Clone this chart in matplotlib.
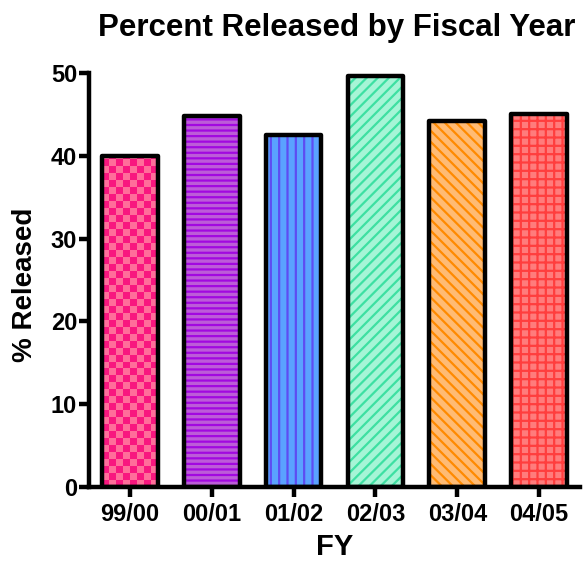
import matplotlib
matplotlib.use("Agg")
import matplotlib.pyplot as plt
import numpy as np
from matplotlib.colors import ListedColormap

plt.rcParams['font.family'] = ['Liberation Sans', 'DejaVu Sans']
plt.rcParams['hatch.linewidth'] = 1.6

categories = ["99/00", "00/01", "01/02", "02/03", "03/04", "04/05"]
values = [40.0, 44.8, 42.5, 49.6, 44.2, 45.0]
yticks = [0, 10, 20, 30, 40, 50]

face_colors = ["#FF6E9A", "#BC5CD8", "#5AA2FF", "#A6F5D6", "#FFBB74", "#FF7C7C"]
hatch_colors = ["#F8177F", "#A208E0", "#5E4CF2", "#3EE0A2", "#FF8A00", "#FF3E3E"]
hatches = [None, "---", "||", "///", "\\\\\\", "++"]

fig = plt.figure(figsize=(5.88, 5.68), dpi=100)
ax = fig.add_axes([0.1514, 0.1426, 0.835, 0.7289])

x = np.arange(len(categories))
width = 0.68

fills = ax.bar(x, values, width=width, color=face_colors, linewidth=0, zorder=2)
for b, hc, h in zip(fills, hatch_colors, hatches):
    if h:
        b.set_hatch(h)
        b.set_edgecolor(hc)
        b.set_linewidth(0)

ax.set_xlim(-0.5, 5.5)
ax.set_ylim(0, 50)

# checkerboard for first bar
b0 = fills[0]
x0, w0, h0 = b0.get_x(), b0.get_width(), b0.get_height()
ncols = 8
cell = w0 / ncols
fig.canvas.draw()
px_per_x = ax.transData.transform((1, 0))[0] - ax.transData.transform((0, 0))[0]
px_per_y = ax.transData.transform((0, 1))[1] - ax.transData.transform((0, 0))[1]
cell_y = cell * px_per_x / px_per_y
nrows = int(np.ceil(h0 / cell_y))
checker = (np.add.outer(np.arange(nrows), np.arange(ncols)) % 2)
cmap = ListedColormap([hatch_colors[0], face_colors[0]])
im = ax.imshow(checker, cmap=cmap, extent=(x0, x0 + w0, 0, nrows * cell_y),
               origin="lower", interpolation="nearest", aspect="auto", zorder=2.5)
im.set_clip_path(b0)
ax.set_xlim(-0.5, 5.5)
ax.set_ylim(0, 50)

outl = ax.bar(x, values, width=width, fill=False, edgecolor="black",
              linewidth=3.2, zorder=3)
for b in outl:
    b.set_joinstyle("round")

ax.set_yticks(yticks)
ax.set_xticks(x)
ax.set_xticklabels(categories)

for s in ["top", "right"]:
    ax.spines[s].set_visible(False)
for s in ["left", "bottom"]:
    ax.spines[s].set_linewidth(3.2)
    ax.spines[s].set_capstyle("projecting")

ax.tick_params(axis="both", width=3.2, length=7.5, labelsize=17, direction="out")
ax.tick_params(axis="y", pad=1)
ax.tick_params(axis="x", pad=4)
for lab in ax.get_xticklabels() + ax.get_yticklabels():
    lab.set_fontweight("bold")

ax.set_ylabel("% Released", fontsize=20, fontweight="bold")
ax.yaxis.set_label_coords(-0.103, 0.488)
ax.set_xlabel("FY", fontsize=21, fontweight="bold", labelpad=5)
fig.text(0.572, 0.951, "Percent Released by Fiscal Year", fontsize=22.5,
         fontweight="bold", ha="center", va="center")

fig.savefig("out.png", dpi=100)
